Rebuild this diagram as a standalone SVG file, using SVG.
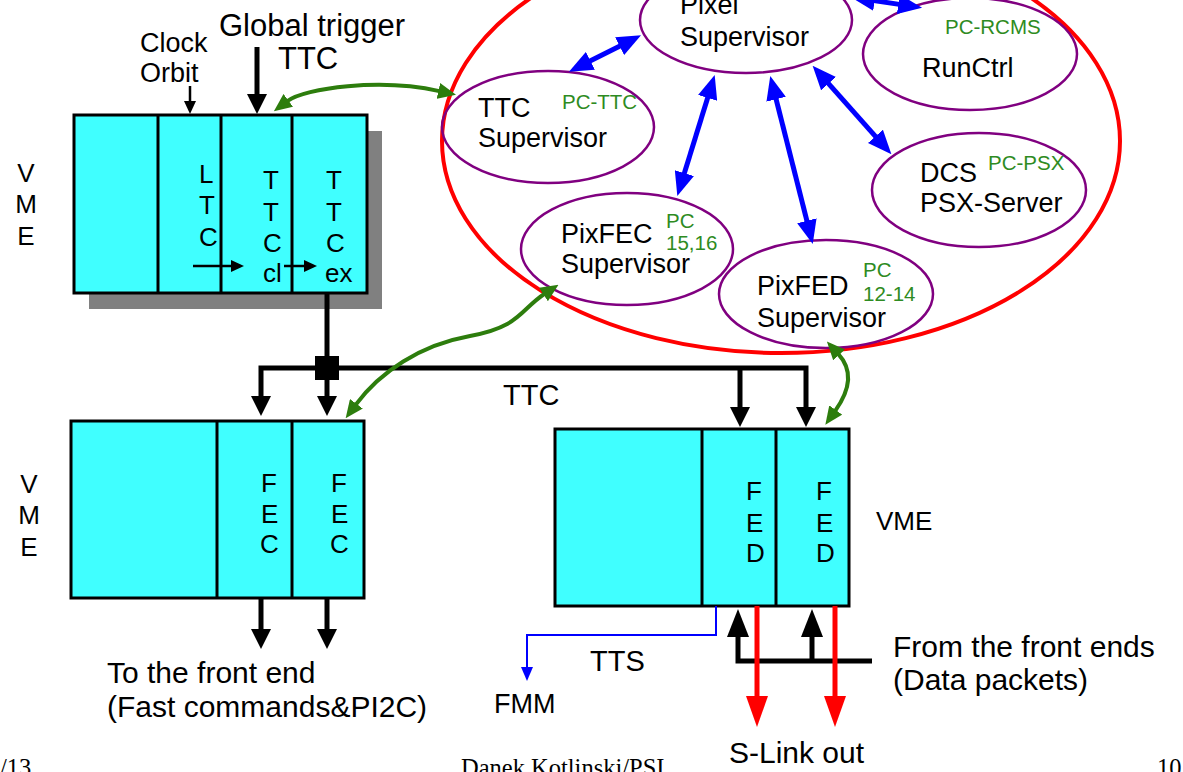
<svg xmlns="http://www.w3.org/2000/svg" width="1183" height="772" viewBox="0 0 1183 772">
<defs>
<style>
text{font-family:"Liberation Sans",Arial,sans-serif;fill:#000}
.t27{font-size:27px}
.t26{font-size:26px}
.t30{font-size:30px}
.pc{font-size:20.5px;fill:#2e8b22}
.ft{font-family:"Liberation Serif","Times New Roman",serif;font-size:24.5px}
.box{fill:#40ffff;stroke:#000;stroke-width:3}
.dv{stroke:#000;stroke-width:3}
.sup{fill:none;stroke:#800080;stroke-width:2.5}
.blue{fill:none;stroke:#0000ff;stroke-width:5;marker-start:url(#bh);marker-end:url(#bh)}
.grn{fill:none;stroke:#2d7d0d;stroke-width:4;marker-start:url(#gh);marker-end:url(#gh)}
.blk{fill:none;stroke:#000;stroke-width:5}
.thin{fill:none;stroke:#000;stroke-width:2.5;marker-end:url(#ks)}
.red{fill:none;stroke:#ff0000;stroke-width:5;marker-end:url(#rh)}
</style>
<marker id="bh" markerUnits="userSpaceOnUse" markerWidth="24" markerHeight="20" viewBox="0 0 24 20" refX="1" refY="10" orient="auto-start-reverse"><path d="M0,0 L24,10 L0,20 z" fill="#0000ff"/></marker>
<marker id="gh" markerUnits="userSpaceOnUse" markerWidth="18" markerHeight="16" viewBox="0 0 18 16" refX="1" refY="8" orient="auto-start-reverse"><path d="M0,0 L18,8 L0,16 z" fill="#2d7d0d"/></marker>
<marker id="kh" markerUnits="userSpaceOnUse" markerWidth="20" markerHeight="20" viewBox="0 0 20 20" refX="1" refY="10" orient="auto-start-reverse"><path d="M0,0 L20,10 L0,20 z" fill="#000"/></marker>
<marker id="kh2" markerUnits="userSpaceOnUse" markerWidth="28" markerHeight="22" viewBox="0 0 28 22" refX="1" refY="11" orient="auto-start-reverse"><path d="M0,0 L28,11 L0,22 z" fill="#000"/></marker>
<marker id="ks" markerUnits="userSpaceOnUse" markerWidth="13" markerHeight="12" viewBox="0 0 13 12" refX="1" refY="6" orient="auto-start-reverse"><path d="M0,0 L13,6 L0,12 z" fill="#000"/></marker>
<marker id="rh" markerUnits="userSpaceOnUse" markerWidth="31" markerHeight="22" viewBox="0 0 31 22" refX="1" refY="11" orient="auto"><path d="M0,0 L31,11 L0,22 z" fill="#ff0000"/></marker>
<marker id="bs" markerUnits="userSpaceOnUse" markerWidth="14" markerHeight="12" viewBox="0 0 14 12" refX="1" refY="6" orient="auto"><path d="M0,0 L14,6 L0,12 z" fill="#0000ff"/></marker>
</defs>
<rect width="1183" height="772" fill="#fff"/>

<g id="pc-domain">
<ellipse cx="781" cy="141" rx="339" ry="212" fill="none" stroke="#ff0000" stroke-width="4"/>
</g>

<g id="pixel-supervisor">
<ellipse class="sup" cx="746" cy="20" rx="106" ry="53"/>
<text class="t27" x="680" y="14">Pixel</text>
<text class="t27" x="680" y="46">Supervisor</text>
</g>
<g id="runctrl">
<ellipse class="sup" cx="970" cy="54" rx="107" ry="56"/>
<text class="pc" x="945" y="34">PC-RCMS</text>
<text class="t27" x="922" y="77">RunCtrl</text>
</g>
<g id="ttc-supervisor">
<ellipse class="sup" cx="548" cy="127" rx="106" ry="56"/>
<text class="t27" x="478" y="117">TTC</text>
<text class="t27" x="478" y="147">Supervisor</text>
<text class="pc" x="562" y="109">PC-TTC</text>
</g>
<g id="dcs">
<ellipse class="sup" cx="979" cy="190" rx="107" ry="57"/>
<text class="t27" x="920" y="182">DCS</text>
<text class="pc" x="988" y="170">PC-PSX</text>
<text class="t27" x="920" y="212">PSX-Server</text>
</g>
<g id="pixfec-supervisor">
<ellipse class="sup" cx="627" cy="249" rx="106" ry="56"/>
<text class="t27" x="561" y="243">PixFEC</text>
<text class="t27" x="561" y="273">Supervisor</text>
<text class="pc" x="666" y="228">PC</text>
<text class="pc" x="666" y="250">15,16</text>
</g>
<g id="pixfed-supervisor">
<ellipse class="sup" cx="826" cy="294" rx="107" ry="54"/>
<text class="t27" x="757" y="295">PixFED</text>
<text class="t27" x="757" y="327">Supervisor</text>
<text class="pc" x="863" y="277">PC</text>
<text class="pc" x="863" y="301">12-14</text>
</g>

<g id="ttc-crate">
<rect x="89" y="131" width="293" height="178" fill="#808080"/>
<rect class="box" x="74" y="115" width="293" height="178"/>
<line class="dv" x1="158" y1="115" x2="158" y2="293"/>
<line class="dv" x1="221" y1="115" x2="221" y2="293"/>
<line class="dv" x1="292" y1="115" x2="292" y2="293"/>
<text class="t26" x="26" y="182" text-anchor="middle">V</text>
<text class="t26" x="26" y="213" text-anchor="middle">M</text>
<text class="t26" x="26" y="245" text-anchor="middle">E</text>
<text class="t26" x="199" y="183">L</text>
<text class="t26" x="199" y="214">T</text>
<text class="t26" x="199" y="246">C</text>
<text class="t26" x="263" y="189">T</text>
<text class="t26" x="263" y="221">T</text>
<text class="t26" x="263" y="252">C</text>
<text class="t26" x="263" y="282">cl</text>
<text class="t26" x="326" y="189">T</text>
<text class="t26" x="326" y="221">T</text>
<text class="t26" x="326" y="252">C</text>
<text class="t26" x="325" y="282">ex</text>
</g>

<g id="fec-crate">
<rect class="box" x="71" y="421" width="293" height="177"/>
<line class="dv" x1="217" y1="421" x2="217" y2="598"/>
<line class="dv" x1="292" y1="421" x2="292" y2="598"/>
<text class="t26" x="29" y="493" text-anchor="middle">V</text>
<text class="t26" x="29" y="524" text-anchor="middle">M</text>
<text class="t26" x="29" y="556" text-anchor="middle">E</text>
<text class="t26" x="261" y="492">F</text>
<text class="t26" x="261" y="523">E</text>
<text class="t26" x="260" y="553">C</text>
<text class="t26" x="331" y="492">F</text>
<text class="t26" x="331" y="523">E</text>
<text class="t26" x="330" y="553">C</text>
</g>

<g id="fed-crate">
<rect class="box" x="555" y="429" width="294" height="177"/>
<line class="dv" x1="702" y1="429" x2="702" y2="606"/>
<line class="dv" x1="776" y1="429" x2="776" y2="606"/>
<text class="t26" x="746" y="500">F</text>
<text class="t26" x="746" y="532">E</text>
<text class="t26" x="746" y="562">D</text>
<text class="t26" x="816" y="500">F</text>
<text class="t26" x="816" y="532">E</text>
<text class="t26" x="816" y="562">D</text>
<text class="t26" x="876" y="530">VME</text>
</g>

<g id="connectors">
<line class="thin" x1="190" y1="86" x2="190" y2="102"/>
<line class="thin" x1="193" y1="266" x2="232" y2="266"/>
<line class="thin" x1="284" y1="266" x2="305" y2="266"/>
<line class="blk" x1="257" y1="47" x2="257" y2="95" style="marker-end:url(#kh)"/>
<line class="blk" x1="327" y1="293" x2="327" y2="397" style="marker-end:url(#kh)"/>
<path class="blk" d="M261 397 V368 H806 V408" style="marker-start:url(#kh);marker-end:url(#kh)"/>
<line class="blk" x1="740" y1="368" x2="740" y2="408" style="marker-end:url(#kh)"/>
<rect x="315" y="356" width="24" height="24" fill="#000"/>
<line class="blk" x1="261" y1="598" x2="261" y2="630" style="marker-end:url(#kh)"/>
<line class="blk" x1="327" y1="598" x2="327" y2="630" style="marker-end:url(#kh)"/>
<path class="blk" d="M738 636 V661 H872" style="marker-start:url(#kh2)"/>
<line class="blk" x1="812" y1="661" x2="812" y2="636" style="marker-end:url(#kh2)"/>
<line class="red" x1="757" y1="606" x2="757" y2="697"/>
<line class="red" x1="835" y1="606" x2="835" y2="697"/>
<path d="M716 606 V635 H527 V668" fill="none" stroke="#0000ff" stroke-width="2" style="marker-end:url(#bs)"/>
<line class="blue" x1="589.5" y1="61.3" x2="620.5" y2="45.7"/>
<line class="blue" x1="684.1" y1="174.1" x2="707.9" y2="96.9"/>
<line class="blue" x1="775.9" y1="98.3" x2="807.1" y2="221.7"/>
<line class="blue" x1="827.9" y1="82.9" x2="876.1" y2="137.1"/>
<line class="blue" x1="873.7" y1="0.6" x2="899.3" y2="4.4"/>
<path class="grn" d="M287.5 101 C305 88 380 78 439.4 91.1"/>
<path class="grn" d="M355.8 404.6 C380 372 420 345 470 336 S520 310 544.3 294"/>
<path class="grn" d="M835.2 410.8 C850 390 853 370 838.4 354.1"/>
</g>

<g id="labels">
<text x="219" y="36" style="font-size:31px">Global trigger</text>
<text x="278" y="69" style="font-size:31px">TTC</text>
<text class="t27" x="140" y="52">Clock</text>
<text class="t27" x="140" y="82">Orbit</text>
<text x="503" y="405" style="font-size:29px">TTC</text>
<text class="t30" x="107" y="683">To the front end</text>
<text class="t30" x="107" y="717">(Fast commands&amp;PI2C)</text>
<text x="494" y="713" style="font-size:27px">FMM</text>
<text x="590" y="671" style="font-size:29px">TTS</text>
<text class="t30" x="893" y="657">From the front ends</text>
<text class="t30" x="893" y="690">(Data packets)</text>
<text class="t30" x="729" y="763">S-Link out</text>
<text class="ft" x="0" y="776">/13</text>
<text class="ft" x="461" y="776">Danek Kotlinski/PSI</text>
<text class="ft" x="1157" y="776">10</text>
</g>
</svg>
